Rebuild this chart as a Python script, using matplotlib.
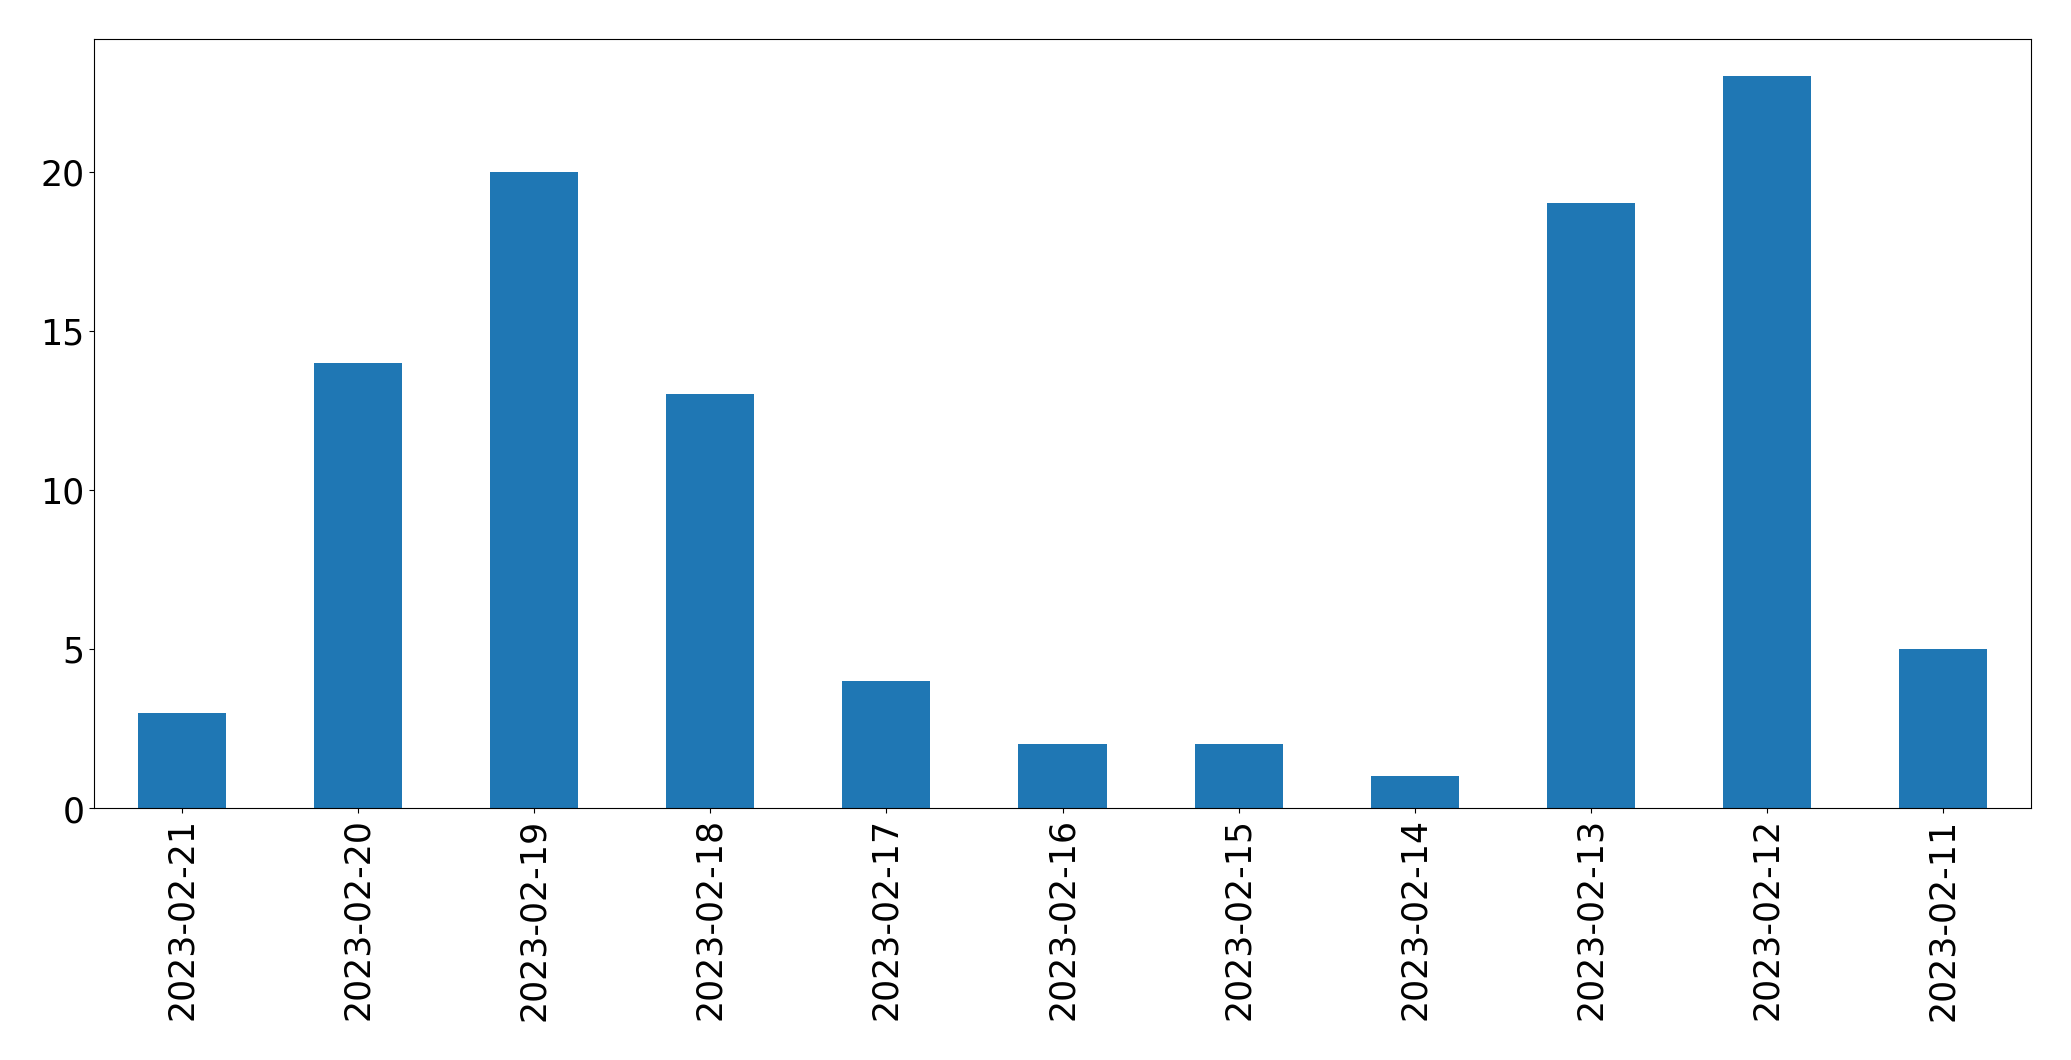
import matplotlib
matplotlib.use("Agg")
import matplotlib.pyplot as plt

dates = ["2023-02-21", "2023-02-20", "2023-02-19", "2023-02-18", "2023-02-17",
         "2023-02-16", "2023-02-15", "2023-02-14", "2023-02-13", "2023-02-12",
         "2023-02-11"]
counts = [3, 14, 20, 13, 4, 2, 2, 1, 19, 23, 5]

fig = plt.figure(figsize=(20.71, 10.605), dpi=100)
ax = fig.add_axes([94/2071, 1 - 809/1061, (2031-94)/2071, (809-40)/1061])
x = list(range(len(dates)))
ax.bar(x, counts, width=0.5, color="#1f77b4")
ax.set_xlim(-0.5, len(dates) - 0.5)
ax.set_ylim(0, max(counts) * 1.05)
ax.set_xticks(x)
ax.set_xticklabels(dates, rotation=90)
ax.set_yticks([0, 5, 10, 15, 20])
ax.tick_params(labelsize=25)
fig.savefig("out.png", dpi=100)
